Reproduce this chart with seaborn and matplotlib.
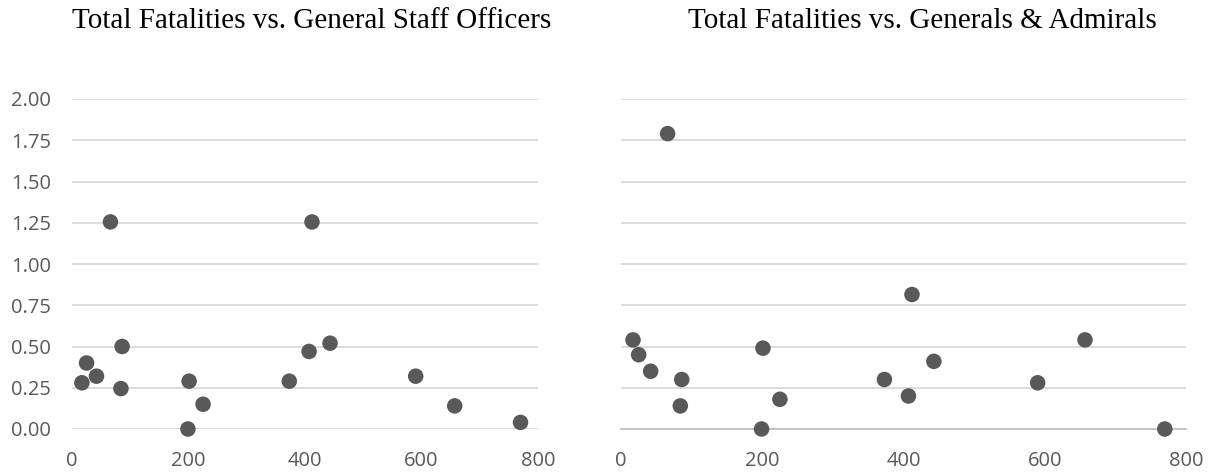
import matplotlib
matplotlib.use("Agg")
import matplotlib.pyplot as plt
import seaborn as sns
import pandas as pd

# Total fatalities per engagement (shared x values)
total_fatalities = [17, 25, 42, 66, 86, 84, 201, 199, 225, 373, 407, 412, 443, 590, 657, 770]
# Ratio series
general_staff_officers = [0.28, 0.40, 0.32, 1.255, 0.50, 0.245, 0.29, 0.00, 0.15,
                          0.29, 0.47, 1.255, 0.52, 0.32, 0.14, 0.04]
generals_admirals = [0.54, 0.45, 0.35, 1.79, 0.30, 0.14, 0.49, 0.00, 0.18,
                     0.30, 0.20, 0.815, 0.41, 0.28, 0.54, 0.00]

titles = ["Total Fatalities vs. General Staff Officers",
          "Total Fatalities vs. Generals & Admirals"]
x_ticks = [0, 200, 400, 600, 800]
y_ticks = [0.0, 0.25, 0.5, 0.75, 1.0, 1.25, 1.5, 1.75, 2.0]

sns.set_theme(style="white")
plt.rcParams["font.family"] = ["Open Sans", "DejaVu Sans"]

fig = plt.figure(figsize=(12.11, 4.74), dpi=100)
ax_left = fig.add_axes([72 / 1211, 1 - 429 / 474, 466 / 1211, 330 / 474])
ax_right = fig.add_axes([621 / 1211, 1 - 429 / 474, 565 / 1211, 330 / 474])

marker_color = "#595959"
grid_color = "#d9d9d9"
label_color = "#595959"

frames = [
    pd.DataFrame({"fatalities": total_fatalities, "ratio": general_staff_officers}),
    pd.DataFrame({"fatalities": total_fatalities, "ratio": generals_admirals}),
]

for ax, df in zip([ax_left, ax_right], frames):
    sns.scatterplot(data=df, x="fatalities", y="ratio", ax=ax, color=marker_color,
                    s=125, edgecolor="none", linewidth=0, clip_on=False, zorder=3)
    ax.set_xlim(0, 800)
    ax.set_ylim(0, 2.0)
    ax.set_xticks(x_ticks)
    ax.set_xticklabels([str(v) for v in x_ticks])
    ax.set_yticks(y_ticks)
    ax.set_xlabel("")
    ax.set_ylabel("")
    for s in ax.spines.values():
        s.set_visible(False)
    ax.yaxis.grid(True, color=grid_color, linewidth=1.3)
    ax.xaxis.grid(False)
    ax.set_axisbelow(True)
    ax.tick_params(axis="y", length=0, labelsize=14.5, labelcolor=label_color, pad=15)
    ax.tick_params(axis="x", length=0, labelsize=14.5, labelcolor=label_color, pad=16)

ax_left.set_yticklabels([f"{v:.2f}" for v in y_ticks])
ax_right.set_yticklabels([])
ax_right.spines["bottom"].set_visible(True)
ax_right.spines["bottom"].set_color("#bfbfbf")
ax_right.spines["bottom"].set_linewidth(1.3)

fig.text(312 / 1211, 1 - 21 / 474, titles[0], ha="center", va="center",
         family="Liberation Serif", fontsize=21, color="black")
fig.text(922 / 1211, 1 - 21 / 474, titles[1], ha="center", va="center",
         family="Liberation Serif", fontsize=21, color="black")

fig.savefig("out.png", dpi=100)
